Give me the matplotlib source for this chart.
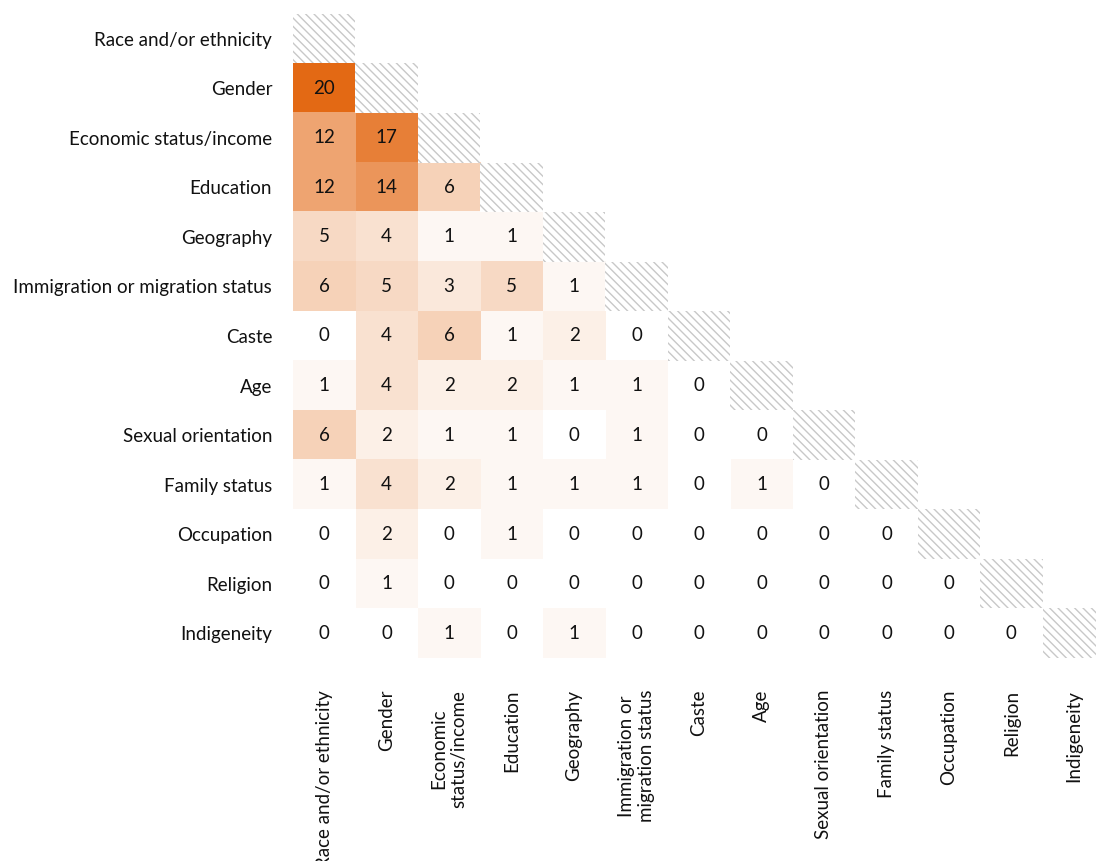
import numpy as np
import matplotlib
matplotlib.use("Agg")
import matplotlib.pyplot as plt
import matplotlib.colors as mcolors
from matplotlib.patches import Rectangle

plt.rcParams['font.family'] = ['Lato', 'DejaVu Sans']
plt.rcParams['hatch.color'] = '#c8c8c8'
plt.rcParams['hatch.linewidth'] = 1.0

# row labels (y) and column labels (x)
row_labels = ["Race and/or ethnicity", "Gender", "Economic status/income", "Education",
              "Geography", "Immigration or migration status", "Caste", "Age",
              "Sexual orientation", "Family status", "Occupation", "Religion", "Indigeneity"]
col_labels = ["Race and/or ethnicity", "Gender", "Economic\nstatus/income", "Education",
              "Geography", "Immigration or\nmigration status", "Caste", "Age",
              "Sexual orientation", "Family status", "Occupation", "Religion", "Indigeneity"]

# lower triangle counts, row by row
lower = [
    [],
    [20],
    [12, 17],
    [12, 14, 6],
    [5, 4, 1, 1],
    [6, 5, 3, 5, 1],
    [0, 4, 6, 1, 2, 0],
    [1, 4, 2, 2, 1, 1, 0],
    [6, 2, 1, 1, 0, 1, 0, 0],
    [1, 4, 2, 1, 1, 1, 0, 1, 0],
    [0, 2, 0, 1, 0, 0, 0, 0, 0, 0],
    [0, 1, 0, 0, 0, 0, 0, 0, 0, 0, 0],
    [0, 0, 1, 0, 1, 0, 0, 0, 0, 0, 0, 0],
]

n = len(row_labels)
mat = np.full((n, n), np.nan)
for i, row in enumerate(lower):
    for j, v in enumerate(row):
        mat[i, j] = v
data = np.ma.masked_invalid(mat)

cmap = mcolors.LinearSegmentedColormap.from_list("orng", ["#ffffff", "#e36914"])

fig = plt.figure(figsize=(10.96, 8.61), dpi=100)
ax = fig.add_axes([0.2673, 0.2358, 0.741, 0.748])
ax.imshow(data, cmap=cmap, vmin=0, vmax=20, aspect='auto', interpolation='nearest')

# hatched diagonal
for k in range(n):
    ax.add_patch(Rectangle((k - 0.5, k - 0.5), 1, 1, facecolor='white',
                           hatch='\\\\\\\\', edgecolor='#c8c8c8', linewidth=0))

for i, row in enumerate(lower):
    for j, v in enumerate(row):
        ax.text(j, i, str(v), ha='center', va='center', fontsize=13.5, color='#111111')

ax.set_xlim(-0.5, n - 0.5)
ax.set_ylim(n - 0.5, -0.5)
ax.set_yticks(range(n))
ax.set_yticklabels(row_labels, fontsize=13.5, color='#111111')
ax.set_xticks(range(n))
ax.set_xticklabels(col_labels, rotation=90, fontsize=13.5, color='#111111',
                   va='top', ha='center', multialignment='center')
ax.tick_params(axis='y', length=0, pad=15)
ax.tick_params(axis='x', length=0, pad=23)
for s in ax.spines.values():
    s.set_visible(False)

fig.savefig("out.png", dpi=100)
